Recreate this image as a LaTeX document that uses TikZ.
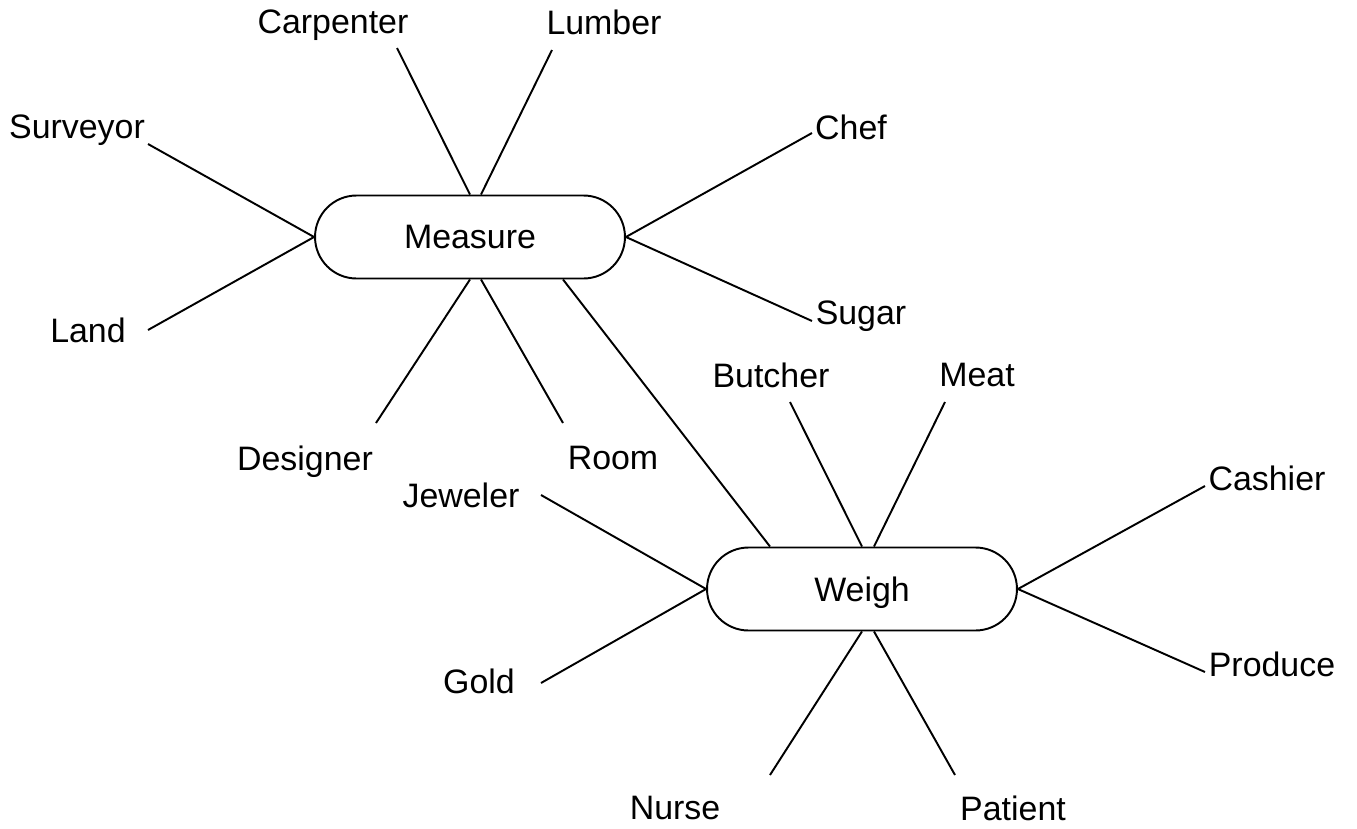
\documentclass[tikz,border=0pt]{standalone}
\usepackage{fontspec}
\setmainfont{Liberation Sans}
\usetikzlibrary{shapes.misc}
\begin{document}
\begin{tikzpicture}[x=0.02cm,y=-0.02cm,
  hub/.style={draw,rounded rectangle,line width=1.1pt,minimum width=6.2cm,minimum height=1.66cm,inner sep=0pt,text depth=0pt,font=\fontsize{19.3}{22}\selectfont},
  lbl/.style={inner sep=0pt,text depth=0pt,font=\fontsize{19.3}{22}\selectfont},
  conn/.style={line width=1.1pt}]
\useasboundingbox (0,0) rectangle (1357,829);
\node[hub] (m) at (470,237) {Measure};
\node[hub] (w) at (862,589) {Weigh};
% labels
\node[lbl] (carp) at (333,22) {Carpenter};
\node[lbl] (lumb) at (604,22) {Lumber};
\node[lbl] (surv) at (77,127) {Surveyor};
\node[lbl] (chef) at (851,127) {Chef};
\node[lbl] (land) at (88,330) {Land};
\node[lbl] (sugar) at (861,313) {Sugar};
\node[lbl] (des) at (305,458) {Designer};
\node[lbl] (room) at (613,458) {Room};
\node[lbl] (butch) at (771,375) {Butcher};
\node[lbl] (meat) at (977,375) {Meat};
\node[lbl] (jew) at (461,495) {Jeweler};
\node[lbl] (cash) at (1267,478) {Cashier};
\node[lbl] (gold) at (479,681) {Gold};
\node[lbl] (prod) at (1272,664) {Produce};
\node[lbl] (nurse) at (675,808) {Nurse};
\node[lbl] (pat) at (1013,808) {Patient};
% free ends
\coordinate (ecarp) at (397,48);
\coordinate (elumb) at (552,50);
\coordinate (esurv) at (148,144);
\coordinate (eland) at (148,330);
\coordinate (echef) at (812,133);
\coordinate (esugar) at (812,321);
\coordinate (edes) at (376,423);
\coordinate (eroom) at (563,423);
\coordinate (ebutch) at (790,402);
\coordinate (emeat) at (945,402);
\coordinate (ejew) at (541,495);
\coordinate (egold) at (541,683);
\coordinate (ecash) at (1205,486);
\coordinate (eprod) at (1205,672);
\coordinate (enurse) at (770,775);
\coordinate (epat) at (955,775);
% connectors Measure
\draw[conn] (ecarp) -- (m.north);
\draw[conn] (elumb) -- ([xshift=0.22cm]m.north);
\draw[conn] (esurv) -- (m.west);
\draw[conn] (eland) -- (m.west);
\draw[conn] (echef) -- (m.east);
\draw[conn] (esugar) -- (m.east);
\draw[conn] (edes) -- (m.south);
\draw[conn] (eroom) -- ([xshift=0.22cm]m.south);
\draw[conn] ([xshift=1.86cm]m.south) -- ([xshift=-1.84cm]w.north);
% connectors Weigh
\draw[conn] (ebutch) -- (w.north);
\draw[conn] (emeat) -- ([xshift=0.24cm]w.north);
\draw[conn] (ejew) -- (w.west);
\draw[conn] (egold) -- (w.west);
\draw[conn] (ecash) -- (w.east);
\draw[conn] (eprod) -- (w.east);
\draw[conn] (enurse) -- (w.south);
\draw[conn] (epat) -- ([xshift=0.24cm]w.south);
\end{tikzpicture}
\end{document}
